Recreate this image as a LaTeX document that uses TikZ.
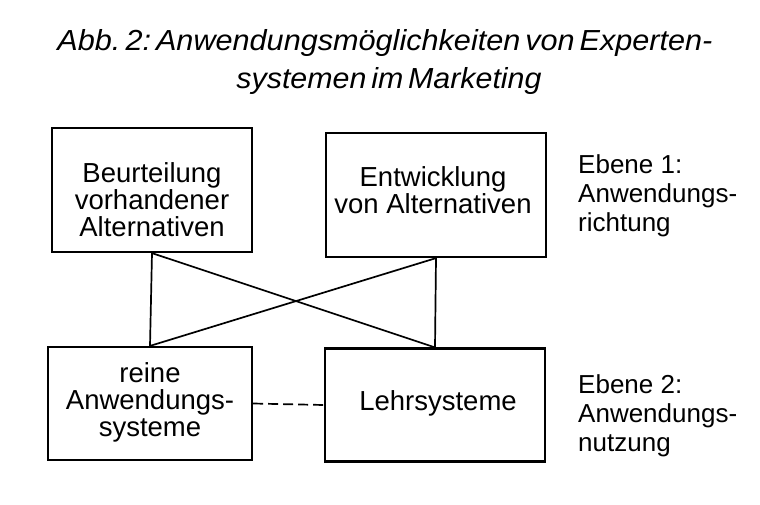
\documentclass[tikz,border=0pt]{standalone}
\usepackage{fontspec}
\setmainfont{Liberation Sans}
\usepackage{graphicx}
\frenchspacing
\begin{document}
\begin{tikzpicture}[x=1pt,y=-1pt,
  box/.style={draw,line width=2.2pt,inner sep=0pt},
  txt/.style={anchor=north,inner sep=0pt,align=center,
    font=\fontsize{27.5}{27}\selectfont},
  lbl/.style={anchor=north west,inner sep=0pt,align=left,
    font=\fontsize{26}{29}\selectfont},
  con/.style={line width=1.7pt}]
\useasboundingbox (0,0) rectangle (760,504);
\node[inner sep=0pt,anchor=base] (t1) at (385,50)
  {\resizebox{655pt}{\height}{\fontsize{29}{29}\selectfont\itshape\spaceskip=0.16em Abb.\,2: Anwendungsmöglichkeiten von Experten-}};
\node[inner sep=0pt,anchor=base] (t2) at (389,88)
  {\resizebox{305pt}{\height}{\fontsize{29}{29}\selectfont\itshape\spaceskip=0.16em systemen im Marketing}};
\node[box,minimum width=200pt,minimum height=124pt] (tl) at (152,190) {};
\node[box,minimum width=220pt,minimum height=124pt] (tr) at (436,195) {};
\node[box,minimum width=204pt,minimum height=113pt] (bl) at (150,403.5) {};
\node[box,minimum width=220pt,minimum height=113pt] (br) at (435,405) {};
\node[txt] (tlt) at (152,162) {Beurteilung\\vorhandener\\Alternativen};
\node[txt] (trt) at (433,166) {Entwicklung\\von Alternativen};
\node[txt] (blt) at (150,362) {reine\\Anwendungs-\\systeme};
\node[txt] (brt) at (438,390) {Lehrsysteme};
\node[lbl] (e1) at (578,154) {Ebene 1:\\Anwendungs-\\richtung};
\node[lbl] (e2) at (578,374) {Ebene 2:\\Anwendungs-\\nutzung};
\draw[con] (tl.south) -- (bl.north);
\draw[con] (tr.south) -- (br.north);
\draw[con] (tl.south) -- (br.north);
\draw[con] (tr.south) -- (bl.north);
\draw[con,dash pattern=on 10pt off 5pt] (bl.east) -- (br.west);
\end{tikzpicture}
\end{document}
